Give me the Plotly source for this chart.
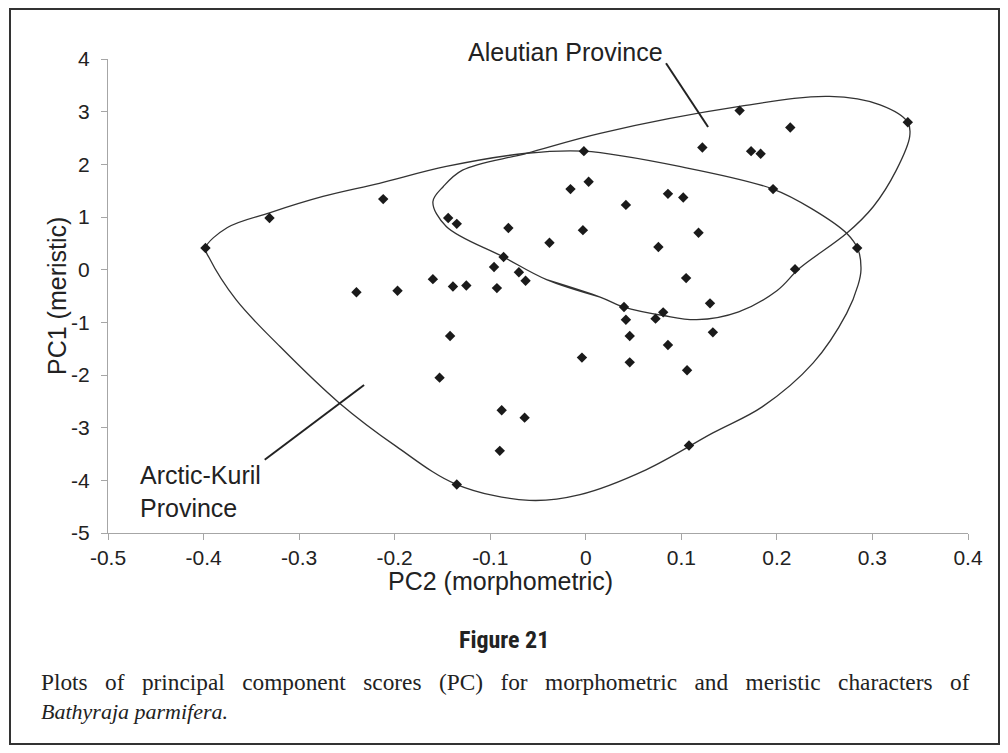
import plotly.graph_objects as go

# ---- data (PC2 morphometric, PC1 meristic) ----
pc2 = [-0.398, -0.331, -0.212, -0.144, -0.135, -0.081, -0.038, -0.016, 0.003, -0.002,
       -0.003, -0.086, -0.096, -0.070, -0.063, -0.160, -0.240, -0.197, -0.139, -0.125,
       -0.093, -0.142, -0.004, -0.153, -0.088, -0.064, -0.090, -0.135, 0.161, 0.214,
       0.337, 0.122, 0.173, 0.183, 0.086, 0.102, 0.042, 0.196, 0.118, 0.076,
       0.284, 0.219, 0.105, 0.040, 0.130, 0.081, 0.073, 0.042, 0.133, 0.046,
       0.086, 0.046, 0.106, 0.108]
pc1 = [0.41, 0.98, 1.34, 0.98, 0.87, 0.79, 0.51, 1.53, 1.67, 2.25,
       0.75, 0.24, 0.05, -0.05, -0.21, -0.18, -0.43, -0.40, -0.32, -0.30,
       -0.35, -1.26, -1.67, -2.05, -2.67, -2.81, -3.44, -4.08, 3.02, 2.70,
       2.80, 2.32, 2.25, 2.20, 1.44, 1.37, 1.23, 1.53, 0.70, 0.43,
       0.41, 0.01, -0.16, -0.71, -0.64, -0.81, -0.93, -0.95, -1.19, -1.26,
       -1.43, -1.76, -1.91, -3.34]

# hand-drawn province envelopes (control points, data units)
arctic_x = [-0.398, -0.375, -0.331, -0.275, -0.216, -0.146, -0.062, -0.002, 0.098, 0.196,
            0.238, 0.273, 0.285, 0.288, 0.285, 0.273, 0.238, 0.185, 0.133, 0.063,
            -0.006, -0.059, -0.135, -0.198, -0.258, -0.320, -0.366, -0.394, -0.398]
arctic_y = [0.41, 0.80, 1.08, 1.39, 1.64, 1.96, 2.21, 2.25, 1.96, 1.53,
            1.14, 0.69, 0.38, 0.00, -0.29, -0.83, -1.77, -2.60, -3.10, -3.80,
            -4.27, -4.38, -4.08, -3.36, -2.53, -1.46, -0.57, 0.22, 0.41]
aleut_x = [0.015, -0.041, -0.086, -0.146, -0.160, -0.149, -0.129, -0.062, 0.015, 0.161,
           0.255, 0.308, 0.337, 0.339, 0.325, 0.301, 0.273, 0.224, 0.200, 0.160,
           0.116, 0.081, 0.040, 0.015, -0.041]
aleut_y = [-0.52, -0.19, 0.24, 0.82, 1.29, 1.58, 1.89, 2.21, 2.59, 3.10,
           3.29, 3.13, 2.80, 2.53, 1.89, 1.20, 0.69, 0.03, -0.40, -0.80,
           -0.95, -0.87, -0.71, -0.52, -0.19]

x_ticks = [-0.5, -0.4, -0.3, -0.2, -0.1, 0, 0.1, 0.2, 0.3, 0.4]
x_ticktext = ["-0.5", "-0.4", "-0.3", "-0.2", "-0.1", "0", "0.1", "0.2", "0.3", "0.4"]
y_ticks = [4, 3, 2, 1, 0, -1, -2, -3, -4, -5]
y_ticktext = ["4", "3", "2", "1", "0", "-1", "-2", "-3", "-4", "-5"]

# label pointer lines (data units)
aleut_ptr_x = [0.084, 0.128]
aleut_ptr_y = [3.92, 2.71]
arctic_ptr_x = [-0.336, -0.232]
arctic_ptr_y = [-3.61, -2.19]

# the page body has an 8px margin: build the figure 16px smaller and
# express positions in window pixels (OFF converts them)
OFF = 8
W, H = 1008 - 2 * OFF, 753 - 2 * OFF
L, T = 108 - OFF, 59 - OFF
R = W - (968 - OFF)
B = H - (533 - OFF)
PW, PH = W - L - R, H - T - B


def px(x):
    return (x - OFF - L) / PW


def py(y):
    return (T + PH - (y - OFF)) / PH


SANS = "Liberation Sans, Arial, sans-serif"
SERIF = "Liberation Serif, Times New Roman, serif"
INK = "#222222"

fig = go.Figure()
fig.add_trace(go.Scatter(x=arctic_x, y=arctic_y, mode="lines",
                         line=dict(color="#333333", width=1.3, shape="spline", smoothing=1.0),
                         hoverinfo="skip", showlegend=False))
fig.add_trace(go.Scatter(x=aleut_x, y=aleut_y, mode="lines",
                         line=dict(color="#333333", width=1.3, shape="spline", smoothing=1.0),
                         hoverinfo="skip", showlegend=False))
fig.add_trace(go.Scatter(x=aleut_ptr_x, y=aleut_ptr_y, mode="lines",
                         line=dict(color=INK, width=2), hoverinfo="skip", showlegend=False))
fig.add_trace(go.Scatter(x=arctic_ptr_x, y=arctic_ptr_y, mode="lines",
                         line=dict(color=INK, width=2), hoverinfo="skip", showlegend=False))
fig.add_trace(go.Scatter(x=pc2, y=pc1, mode="markers",
                         marker=dict(symbol="diamond", size=8, color="#1a1a1a"),
                         showlegend=False))

axis_common = dict(showgrid=False, zeroline=False, showline=True, linecolor="#a6a6a6",
                   linewidth=1, ticks="outside", ticklen=6, tickcolor="#a6a6a6",
                   tickfont=dict(family=SANS, size=21, color=INK))
fig.update_xaxes(range=[-0.5, 0.4], tickvals=x_ticks, ticktext=x_ticktext,
                 ticklabelstandoff=0, **axis_common)
fig.update_yaxes(range=[-5, 4], tickvals=y_ticks, ticktext=y_ticktext,
                 ticklabelstandoff=7, **axis_common)


def note(text, x, y, size, family=SANS, xanchor="center", **kw):
    return dict(text=text, x=px(x), y=py(y), xref="paper", yref="paper",
                xanchor=xanchor, yanchor="middle", showarrow=False,
                font=dict(family=family, size=size, color=INK), **kw)


gap = " &nbsp;&nbsp;"
caption1 = gap.join("Plots of principal component scores (PC) for morphometric and meristic characters of".split(" "))

ann = [
    note("PC2 (morphometric)", 500, 581, 25),
    note("PC1 (meristic)", 57, 296, 25, textangle=-90),
    note("Aleutian Province", 466, 52, 25, xanchor="left"),
    note("Arctic-Kuril<br>Province", 138, 491, 25, xanchor="left", align="left"),
    note("<b>Figure 21</b>", 504, 640, 24,
         family="Liberation Sans Narrow, Roboto Condensed, Roboto, sans-serif"),
    note(caption1, 39, 682, 23.3, family=SERIF, xanchor="left"),
    note("<i>Bathyraja parmifera.</i>", 39, 711, 22, family=SERIF, xanchor="left"),
]

fig.update_layout(
    width=W, height=H, margin=dict(l=L, r=R, t=T, b=B, pad=0),
    paper_bgcolor="white", plot_bgcolor="white",
    annotations=ann,
    shapes=[dict(type="rect", xref="paper", yref="paper",
                 x0=px(10), x1=px(999), y0=py(744), y1=py(9),
                 line=dict(color="#333333", width=2), fillcolor="rgba(0,0,0,0)")],
)

fig.write_html("out.html")
